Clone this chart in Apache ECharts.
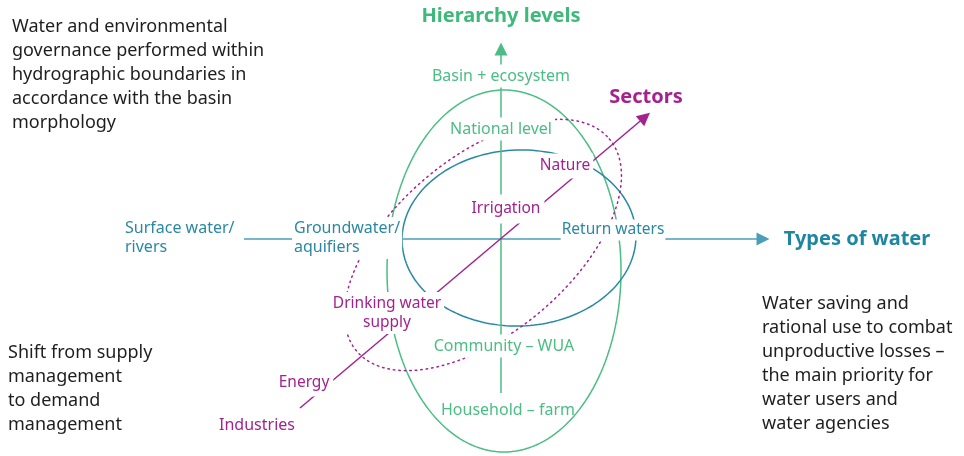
<!DOCTYPE html>
<html>
<head>
<meta charset="utf-8">
<script src="https://cdn.jsdelivr.net/npm/echarts@6/dist/echarts.min.js"></script>
<style>html,body{margin:0;padding:0;background:#fff}#c{width:964px;height:456px}</style>
</head>
<body>
<div id="c"></div>
<script>
// ---- Data ----
const axisTitles = ['Hierarchy levels', 'Sectors', 'Types of water'];
const hierarchyLabels = ['Basin + ecosystem', 'National level', 'Community – WUA', 'Household – farm'];
const sectorLabels = ['Industries', 'Energy', 'Drinking water\nsupply', 'Irrigation', 'Nature'];
const waterLabels = ['Surface water/\nrivers', 'Groundwater/\naquifiers', 'Return waters'];
const notes = [
  'Water and environmental\ngovernance performed within\nhydrographic boundaries in\naccordance with the basin\nmorphology',
  'Shift from supply\nmanagement\nto demand\nmanagement',
  'Water saving and\nrational use to combat\nunproductive losses –\nthe main priority for\nwater users and\nwater agencies'
];
// axes: [start, end]
const hierarchyAxis = [[501, 393], [501, 49]];
const waterAxis = [[244, 239], [763, 239]];
const sectorAxis = [[300, 408], [645, 117]];
// ellipses: [cx, cy, rx, ry, angleDeg]
const hierarchyEllipse = [504, 271, 117, 181, 0];
const waterEllipse = [519, 238, 117, 88, -2];
const sectorEllipse = [483, 245, 165, 88, -40];

// ---- Layout / styles ----
const GREEN = '#4cbd84', GREEN_T = '#3db97a';
const BLUE = '#2a88a4', BLUE_L = '#4a9fb8', BLUE_T = '#1f86a2';
const MAG = '#a3228f';
const TXT = '#1e1e1e';
const FONT = 'Noto Sans';

const hierarchyPos = [[501, 76], [501, 129], [504, 346], [508, 410]];
const sectorPos = [[257, 425], [304, 383], [387, 313], [506, 209], [565, 166]];
const waterPos = [[123, 238], [292, 238], [613, 230]];
const titlePos = [[501, 16], [646, 97], [857, 239]];
const notePos = [[10, 75], [6, 389], [760, 364]];

function lbl(name, pos, color, opts) {
  return {
    value: pos, name: name,
    itemStyle: {opacity: 1},
    label: Object.assign({
      show: true, position: 'inside', formatter: '{b}', color: color, opacity: 1,
      fontFamily: FONT, fontSize: 15.5, lineHeight: 19,
      backgroundColor: '#fff', padding: [1, 2],
      align: 'center', verticalAlign: 'middle'
    }, opts || {})
  };
}

const labelData = [];
hierarchyLabels.forEach((t, i) => labelData.push(lbl(t, hierarchyPos[i], GREEN,
  i === 3 ? {fontSize: 16, backgroundColor: 'transparent'} : {fontSize: 16, padding: [2, 3]})));
sectorLabels.forEach((t, i) => {
  let o = {};
  if (i === 0) o = {fontSize: 16, backgroundColor: 'transparent'};
  if (i === 1) o = {padding: [4, 4]};
  if (i === 2) o = {padding: [2, 3]};
  if (i === 3) o = {padding: [8, 4, 2, 4]};
  if (i === 4) o = {padding: [3, 3]};
  labelData.push(lbl(t, sectorPos[i], MAG, o));
});
waterLabels.forEach((t, i) => labelData.push(lbl(t, waterPos[i], BLUE,
  i === 2 ? {fontSize: 15.5, padding: [1, 1]} : {fontSize: 16, lineHeight: 19, align: 'left', padding: [2, 2]})));
const titleColors = [GREEN_T, MAG, BLUE_T];
axisTitles.forEach((t, i) => labelData.push(lbl(t, titlePos[i], titleColors[i],
  {fontSize: 20, fontWeight: 'bold', backgroundColor: 'transparent'})));
notes.forEach((t, i) => labelData.push(lbl(t, notePos[i], TXT,
  {fontSize: 18, lineHeight: 24, align: 'left', backgroundColor: 'transparent'})));

function ellipseSeries(e, color, dash) {
  return {
    type: 'custom', coordinateSystem: 'cartesian2d', z: 2, silent: true,
    data: [e],
    renderItem: function (params, api) {
      const cx = api.value(0), cy = api.value(1), rx = api.value(2), ry = api.value(3);
      const a = api.value(4) * Math.PI / 180;
      const pts = [];
      const N = 180;
      for (let k = 0; k <= N; k++) {
        const t = k / N * Math.PI * 2;
        const x = rx * Math.cos(t), y = ry * Math.sin(t);
        pts.push(api.coord([cx + x * Math.cos(a) - y * Math.sin(a), cy + x * Math.sin(a) + y * Math.cos(a)]));
      }
      return {
        type: 'polyline', shape: {points: pts},
        style: {stroke: color, lineWidth: 1.5, fill: null, lineDash: dash || null, lineCap: 'round', opacity: 1}
      };
    }
  };
}

const chart = echarts.init(document.getElementById('c'), null, {renderer: 'canvas'});
chart.setOption({
  animation: false,
  backgroundColor: '#fff',
  grid: {left: 0, right: 0, top: 0, bottom: 0},
  xAxis: {type: 'value', min: 0, max: 964, show: false},
  yAxis: {type: 'value', min: 0, max: 456, inverse: true, show: false},
  series: [
    ellipseSeries(hierarchyEllipse, GREEN),
    ellipseSeries(waterEllipse, BLUE),
    ellipseSeries(sectorEllipse, MAG, [1.5, 4]),
    {
      type: 'lines', coordinateSystem: 'cartesian2d', z: 3, silent: true,
      symbol: ['none', 'triangle'], symbolSize: 13,
      lineStyle: {opacity: 1, width: 1.5},
      data: [
        {coords: hierarchyAxis, lineStyle: {color: GREEN, width: 1.5, opacity: 1}},
        {coords: waterAxis, lineStyle: {color: BLUE_L, width: 1.5, opacity: 1}},
        {coords: sectorAxis, lineStyle: {color: MAG, width: 1.5, opacity: 1}}
      ]
    },
    {
      type: 'scatter', z: 10, symbolSize: 0, silent: true,
      itemStyle: {opacity: 1},
      data: labelData
    }
  ]
});
</script>
</body>
</html>
